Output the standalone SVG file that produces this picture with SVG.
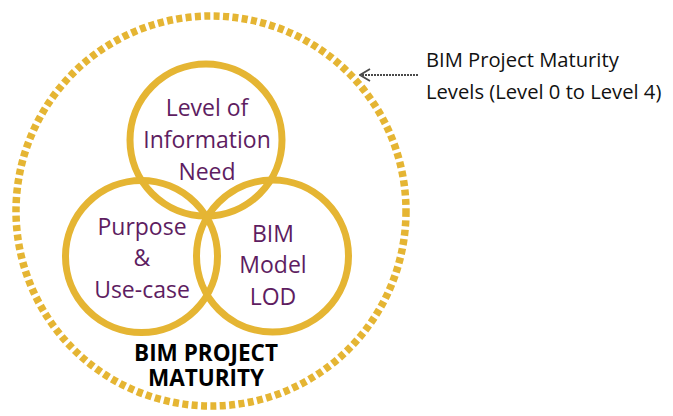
<svg xmlns="http://www.w3.org/2000/svg" width="673" height="416" viewBox="0 0 673 416">
<style>
.ring{fill:none;stroke:#E5B533;stroke-width:7}
.lbl{font-family:"Open Sans","Noto Sans",sans-serif;font-size:23px;fill:#5E1D61;text-anchor:middle}
.side{font-family:"Open Sans","Noto Sans",sans-serif;font-size:20.2px;fill:#111}
.title{font-family:"Open Sans","Noto Sans",sans-serif;font-size:22.5px;font-weight:bold;fill:#000;text-anchor:middle}
</style>
<defs>
<marker id="arr" viewBox="0 0 12 14" refX="11" refY="7" markerWidth="12" markerHeight="14" markerUnits="userSpaceOnUse" orient="auto">
<path d="M1,1 L11,7 L1,13" fill="none" stroke="#4a4a4a" stroke-width="1.8"/>
</marker>
</defs>
<g id="outer">
<circle cx="211" cy="211" r="195" fill="none" stroke="#E5B533" stroke-width="7.5" stroke-dasharray="6 3.4"/>
<text class="title"><tspan x="206" y="361">BIM PROJECT</tspan><tspan x="206" y="386">MATURITY</tspan></text>
</g>
<g id="top">
<circle class="ring" cx="206" cy="140" r="76"/>
<text class="lbl" x="207" y="116">Level of</text>
<text class="lbl" x="207" y="148">Information</text>
<text class="lbl" x="207" y="180">Need</text>
</g>
<g id="left">
<circle class="ring" cx="141.5" cy="256.5" r="76"/>
<text class="lbl" x="142" y="235">Purpose</text>
<text class="lbl" x="142" y="266">&amp;</text>
<text class="lbl" x="142" y="298">Use-case</text>
</g>
<g id="right">
<circle class="ring" cx="272.5" cy="256" r="76"/>
<text class="lbl" x="273" y="242">BIM</text>
<text class="lbl" x="273" y="273">Model</text>
<text class="lbl" x="273" y="305">LOD</text>
</g>
<g id="note">
<text class="side" x="426" y="67">BIM Project Maturity</text>
<text class="side" x="426" y="99">Levels (Level 0 to Level 4)</text>
</g>
<g id="connectors">
<line x1="418" y1="75" x2="360" y2="75" stroke="#4a4a4a" stroke-width="1.8" stroke-dasharray="2 1" marker-end="url(#arr)"/>
</g>
</svg>
